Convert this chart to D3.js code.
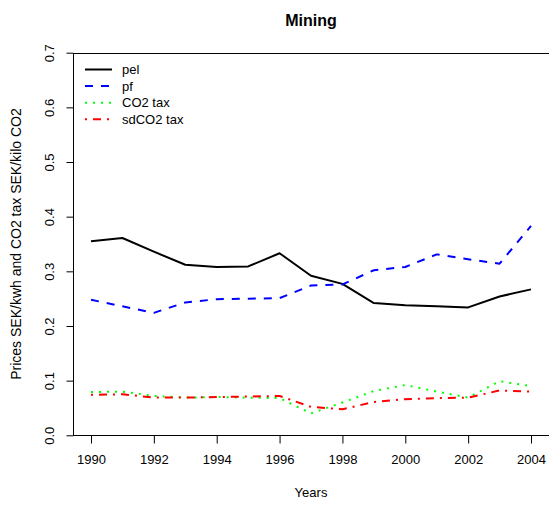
<!DOCTYPE html>
<html>
<head>
<meta charset="utf-8">
<script src="https://cdn.jsdelivr.net/npm/d3@7"></script>
<style>
  html, body { margin: 0; padding: 0; background: #fff; }
  text { font-family: "Liberation Sans", Arial, Helvetica, sans-serif; fill: #000; }
</style>
</head>
<body>
<svg id="chart" width="549" height="505"></svg>
<script>
// Yearly series for the mining sector
const years = [1990, 1991, 1992, 1993, 1994, 1995, 1996, 1997, 1998, 1999, 2000, 2001, 2002, 2003, 2004];
const pel      = [0.355, 0.361, 0.336, 0.312, 0.308, 0.309, 0.333, 0.292, 0.277, 0.242, 0.238, 0.236, 0.234, 0.254, 0.267];
const pf       = [0.248, 0.236, 0.224, 0.243, 0.249, 0.250, 0.251, 0.274, 0.276, 0.302, 0.308, 0.331, 0.322, 0.314, 0.383];
const co2tax   = [0.079, 0.080, 0.072, 0.069, 0.070, 0.069, 0.068, 0.040, 0.060, 0.081, 0.092, 0.080, 0.069, 0.099, 0.090];
const sdco2tax = [0.074, 0.075, 0.069, 0.069, 0.070, 0.071, 0.072, 0.052, 0.0475, 0.061, 0.066, 0.068, 0.069, 0.082, 0.080];

const xTicks = [1990, 1992, 1994, 1996, 1998, 2000, 2002, 2004];
const yTicks = [0.0, 0.1, 0.2, 0.3, 0.4, 0.5, 0.6, 0.7];

const seriesNames = ["pel", "pf", "CO2 tax", "sdCO2 tax"];
const seriesValues = [pel, pf, co2tax, sdco2tax];
const seriesColors = ["#000000", "#0000ff", "#00ff00", "#ff0000"];
const seriesDash = [null, "8,8", "2,6", "2,6,8,6"];

const svg = d3.select("#chart");
const plotL = 73.4, plotR = 548.6, plotT = 52.7, plotB = 435.3;

// x range padded 4% on each side, y axis exact 0..0.7
const span = 2004 - 1990;
const x = d3.scaleLinear().domain([1990 - span * 0.04, 2004 + span * 0.04]).range([plotL, plotR]);
const y = d3.scaleLinear().domain([0, 0.7]).range([plotB, plotT]);

// Series lines
const line = d3.line().x((d, i) => x(years[i])).y(d => y(d));
seriesValues.forEach((vals, k) => {
  svg.append("path")
    .datum(vals)
    .attr("d", line)
    .attr("fill", "none")
    .attr("stroke", seriesColors[k])
    .attr("stroke-width", 2)
    .attr("stroke-dasharray", seriesDash[k])
    .attr("stroke-linejoin", "round");
});

// Plot frame
svg.append("rect")
  .attr("x", Math.round(plotL) + 0.5).attr("y", Math.round(plotT) + 0.5)
  .attr("width", Math.round(plotR) - Math.round(plotL)).attr("height", Math.round(plotB) - Math.round(plotT))
  .attr("fill", "none").attr("stroke", "#000").attr("stroke-width", 1);

// X axis
const xAxis = d3.axisBottom(x).tickValues(xTicks).tickFormat(d3.format("d")).tickSize(8).tickPadding(11);
const gx = svg.append("g").attr("transform", `translate(0,${Math.round(plotB) + 0.5})`).call(xAxis);
gx.select(".domain").remove();
gx.selectAll("text").style("font-size", "13px").attr("font-family", null);

// Y axis with labels turned parallel to the axis
const yAxis = d3.axisLeft(y).tickValues(yTicks).tickFormat(d3.format(".1f")).tickSize(7).tickPadding(0);
const gy = svg.append("g").attr("transform", `translate(${Math.round(plotL) + 0.5},0)`).call(yAxis);
gy.select(".domain").remove();
gy.selectAll(".tick text")
  .style("font-size", "13px").attr("font-family", null)
  .attr("x", null)
  .attr("text-anchor", "middle")
  .attr("transform", "translate(-24,0) rotate(-90)")
  .attr("dy", "0.35em");

// Title and axis titles
svg.append("text").attr("x", (plotL + plotR) / 2).attr("y", 26)
  .attr("text-anchor", "middle").style("font-size", "16px").style("font-weight", "bold").text("Mining");
svg.append("text").attr("x", (plotL + plotR) / 2).attr("y", 497)
  .attr("text-anchor", "middle").style("font-size", "13px").text("Years");
svg.append("text")
  .attr("transform", `translate(21,${(plotT + plotB) / 2}) rotate(-90)`)
  .attr("text-anchor", "middle").style("font-size", "14px")
  .text("Prices SEK/kwh and CO2 tax SEK/kilo CO2");

// Legend
const legend = svg.append("g");
seriesNames.forEach((name, k) => {
  const ly = 69.5 + k * 16.6;
  legend.append("line")
    .attr("x1", 85).attr("x2", 112).attr("y1", ly).attr("y2", ly)
    .attr("stroke", seriesColors[k]).attr("stroke-width", 2)
    .attr("stroke-dasharray", seriesDash[k]);
  legend.append("text").attr("x", 122).attr("y", ly).attr("dy", "0.35em")
    .style("font-size", "13px").text(name);
});
</script>
</body>
</html>
